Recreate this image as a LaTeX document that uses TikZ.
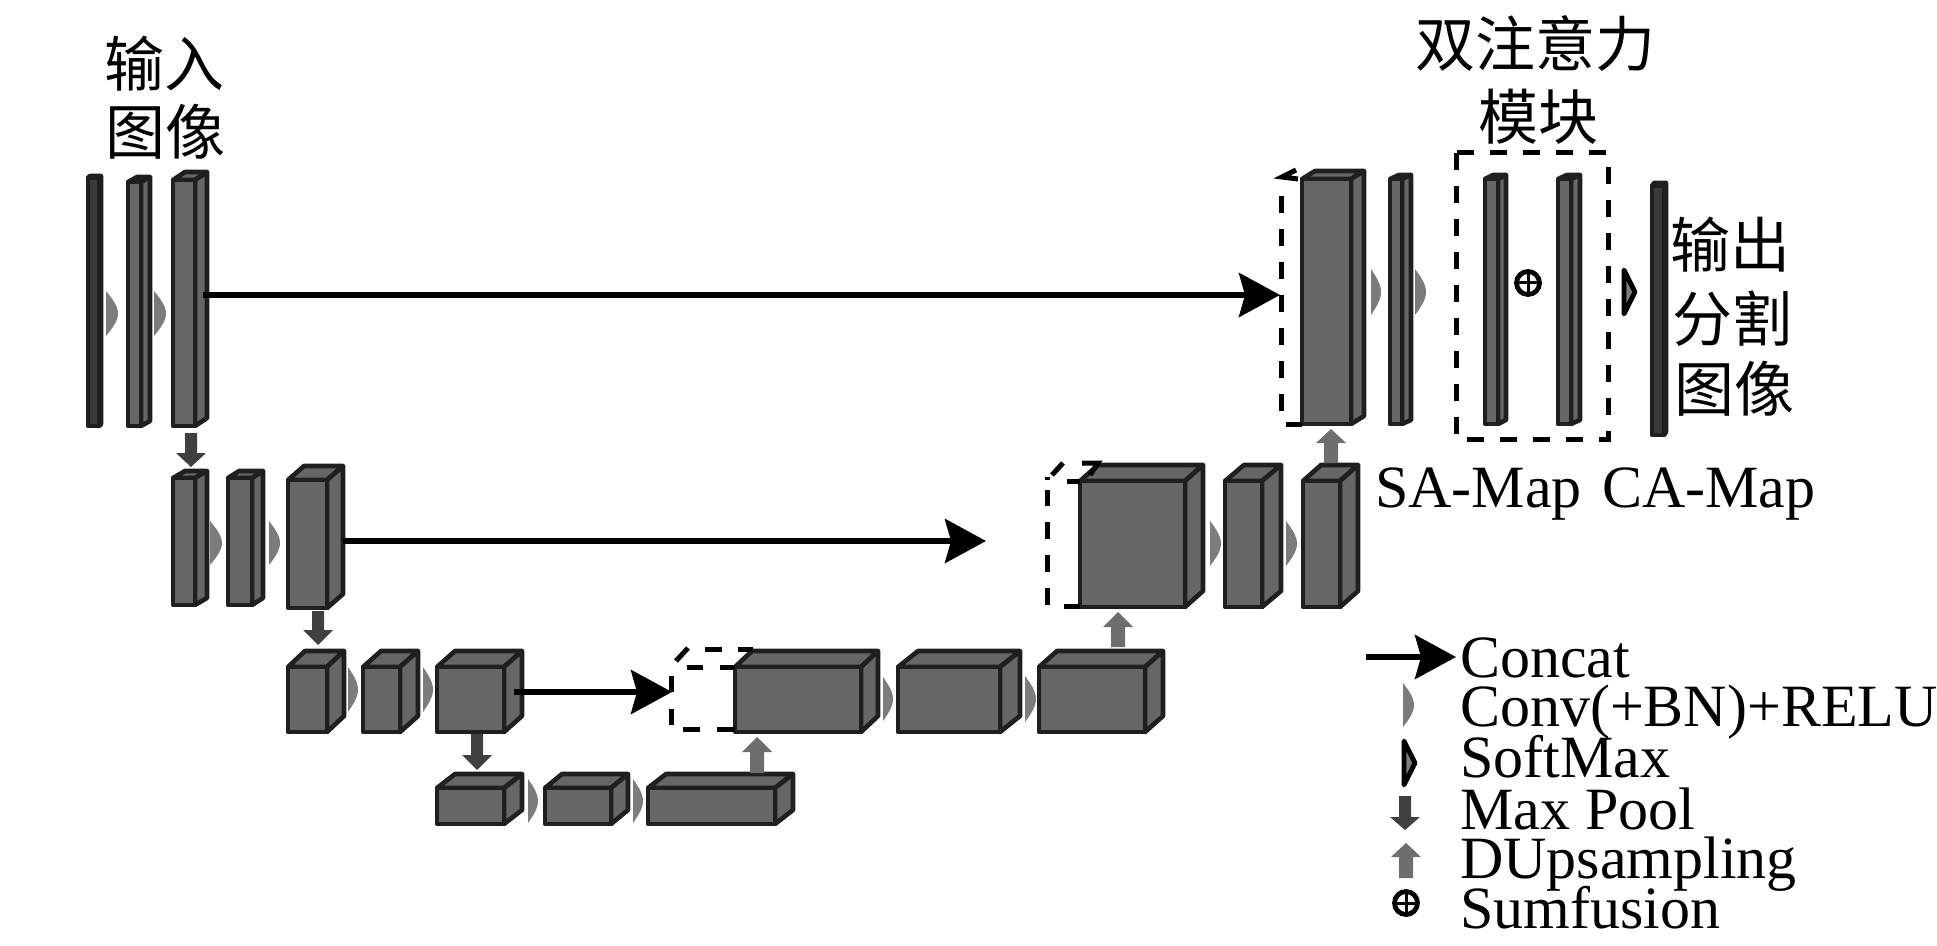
\documentclass[tikz,border=0pt]{standalone}
\usepackage{fontspec}
\setmainfont{Liberation Serif}
\newfontfamily\cjk{Noto Sans CJK SC}
\usetikzlibrary{arrows.meta}
\definecolor{cubefill}{HTML}{666666}
\definecolor{cubeline}{HTML}{1F1F1F}
\definecolor{cubedark}{HTML}{3A3A3A}
\definecolor{convcol}{HTML}{7C7C7C}
\definecolor{poolcol}{HTML}{404040}
\definecolor{upcol}{HTML}{6E6E6E}
\tikzset{
  x=0.5pt,y=-0.5pt,
  cubeface/.style={draw=cubeline,fill=cubefill,line width=2.3pt,inner sep=0pt,outer sep=0pt,anchor=north west,line join=round},
  cubeside/.style={draw=cubeline,fill=cubefill,line width=2.3pt,line join=round},
  dashbox/.style={draw=black,line width=2.5pt,dash pattern=on 8.5pt off 8pt},
  dashbit/.style={draw=black,line width=2.5pt},
  concat/.style={draw=black,line width=2.7pt,-{Stealth[length=20.5pt,width=22pt,inset=3pt]}},
  txt/.style={inner sep=0pt,outer sep=0pt,anchor=base west,font=\fontsize{30}{31}\selectfont},
  cjktxt/.style={inner sep=0pt,outer sep=0pt,anchor=center,font=\cjk\fontsize{30}{31}\selectfont},
}
\newcommand{\cuboid}[8][cubefill]{%
  % #2 name #3 x0 #4 yback #5 yfront #6 x1 #7 xback #8 y1
  \pgfmathsetmacro{\dxx}{#7-#6}%
  \pgfmathsetmacro{\dyy}{#5-#4}%
  \pgfmathsetmacro{\topb}{#3+\dxx}%
  \pgfmathsetmacro{\botb}{#8-\dyy}%
  \path[cubeside,fill=#1] (#3,#5) -- (\topb,#4) -- (#7,#4) -- (#6,#5) -- cycle;
  \path[cubeside,fill=#1] (#6,#5) -- (#7,#4) -- (#7,\botb) -- (#6,#8) -- cycle;
  \node[cubeface,fill=#1,minimum width=(#6-#3)*0.5pt,minimum height=(#8-#5)*0.5pt] (#2) at (#3,#5) {};
}
% x0 x1 y0 y1
\newcommand{\convmark}[4]{%
  \pgfmathsetmacro{\ymid}{(#3+#4)/2}%
  \pgfmathsetmacro{\xa}{#1+0.45*(#2-#1)}%
  \pgfmathsetmacro{\ya}{#3+0.15*(#4-#3)}%
  \pgfmathsetmacro{\yb}{#3+0.32*(#4-#3)}%
  \pgfmathsetmacro{\yc}{#4-0.32*(#4-#3)}%
  \pgfmathsetmacro{\yd}{#4-0.15*(#4-#3)}%
  \fill[convcol] (#1,#3) .. controls (\xa,\ya) and (#2,\yb) .. (#2,\ymid) .. controls (#2,\yc) and (\xa,\yd) .. (#1,#4) -- cycle;
}
\newcommand{\softmark}[4]{%
  \path[fill=convcol,draw=black,line width=2.4pt,line join=round] (#1,#3) -- (#2,{(#3+#4)/2}) -- (#1,#4) -- cycle;
}
% cx, ytop, yheadbase, ytip
\newcommand{\poolarrow}[4]{%
  \fill[poolcol] (#1-6,#2) -- (#1+6,#2) -- (#1+6,#3) -- (#1+15,#3) -- (#1,#4) -- (#1-15,#3) -- (#1-6,#3) -- cycle;
}
% cx, ybottom, yheadbase, ytip
\newcommand{\uparrowmark}[4]{%
  \fill[upcol] (#1-7,#2) -- (#1+7,#2) -- (#1+7,#3) -- (#1+15,#3) -- (#1,#4) -- (#1-15,#3) -- (#1-7,#3) -- cycle;
}
\newcommand{\sumfus}[2]{%
  \draw[black,line width=2.4pt] (#1,#2) circle (11.5);
  \draw[black,line width=1.5pt] (#1-11,#2) -- (#1+11,#2) (#1,#2-11) -- (#1,#2+11);
}
\begin{document}
\begin{tikzpicture}
\useasboundingbox (0,0) rectangle (1937,946);
% titles
\node[cjktxt] (tin1) at (164,64) {输入};
\node[cjktxt] (tin2) at (165,132) {图像};
\node[cjktxt] (tda1) at (1535,44) {双注意力};
\node[cjktxt] (tda2) at (1538,117) {模块};
\node[cjktxt] (tou1) at (1730,245) {输出};
\node[cjktxt] (tou2) at (1732,319) {分割};
\node[cjktxt] (tou3) at (1734,389) {图像};
\node[txt] (tsa) at (1375,507) {SA-Map};
\node[txt] (tca) at (1602,507) {CA-Map};
% encoder row 1
\cuboid[cubedark]{a1}{88}{176}{178}{99}{101}{426}
\cuboid{a2}{128}{177}{182}{141}{150}{426}
\cuboid{a3}{173}{172}{180}{195}{207}{426}
\convmark{106}{118}{291}{336}
\convmark{154}{166}{291}{336}
% encoder row 2
\cuboid{b1}{173}{471}{478}{195}{207}{605}
\cuboid{b2}{228}{471}{478}{252}{263}{605}
\cuboid{b3}{288}{466}{480}{327}{343}{608}
\convmark{210}{222}{521}{565}
\convmark{269}{280}{521}{565}
% encoder row 3
\cuboid{c1}{288}{651}{667}{327}{344}{732}
\cuboid{c2}{363}{651}{667}{400}{418}{732}
\cuboid{c3}{437}{651}{667}{504}{522}{732}
\convmark{348}{358}{667}{712}
\convmark{423}{433}{667}{712}
% bottom row
\cuboid{d1}{437}{774}{788}{504}{522}{824}
\cuboid{d2}{545}{774}{788}{611}{628}{824}
\cuboid{d3}{648}{774}{788}{775}{793}{824}
\convmark{528}{538}{779}{823}
\convmark{633}{643}{779}{823}
% decoder row 3
\cuboid{e1}{735}{651}{667}{861}{878}{732}
\cuboid{e2}{898}{651}{667}{1000}{1020}{732}
\cuboid{e3}{1039}{651}{667}{1145}{1163}{732}
\convmark{883}{893}{677}{721}
\convmark{1025}{1036}{676}{722}
% decoder row 2
\cuboid{f1}{1080}{465}{481}{1185}{1203}{607}
\cuboid{f2}{1225}{465}{481}{1262}{1281}{607}
\cuboid{f3}{1303}{465}{481}{1340}{1358}{607}
\convmark{1210}{1221}{521}{566}
\convmark{1286}{1297}{521}{566}
% decoder row 1
\cuboid{g1}{1302}{171}{179}{1351}{1364}{424}
\cuboid{g2}{1390}{175}{179}{1402}{1411}{424}
\cuboid{g3}{1485}{175}{179}{1498}{1506}{424}
\cuboid{g4}{1558}{175}{179}{1571}{1580}{424}
\cuboid[cubedark]{g5}{1652}{183}{186}{1664}{1666}{435}
\convmark{1371}{1381}{269}{315}
\convmark{1415}{1426}{269}{315}
\softmark{1624}{1635}{270}{314}
\sumfus{1528}{283}
% block arrows
\poolarrow{191}{433}{453}{467}
\poolarrow{318}{611}{630}{645}
\poolarrow{477}{734}{755}{770}
\uparrowmark{757}{773}{752}{737}
\uparrowmark{1118}{647}{627}{612}
\uparrowmark{1331}{463}{443}{429}
% dashed concat frames
\draw[dashbit] (1286,424) -- (1302,424);
\draw[dashbox] (1281,411) -- (1281,195);
\draw[dashbit] (1298,179) -- (1282,177) -- (1296,170);
\draw[dashbit] (1064,606) -- (1080,606);
\draw[dashbit] (1067,481) -- (1080,481);
\draw[dashbox] (1047,605) -- (1047,490);
\draw[dashbit] (1047,480) -- (1047,477);
\draw[dashbit] (1052,475) -- (1063,463);
\draw[dashbit] (1082,463) -- (1098,463) -- (1090,475);
\draw[dashbit] (683,729) -- (700,729);
\draw[dashbit] (717,729) -- (735,729);
\draw[dashbit] (671,676) -- (671,692);
\draw[dashbit] (671,709) -- (671,725);
\draw[dashbit] (687,667) -- (703,667);
\draw[dashbit] (720,667) -- (735,667);
\draw[dashbit] (676,661) -- (688,648);
\draw[dashbit] (705,649) -- (722,649);
\draw[dashbit] (738,649) -- (753,649);
% dual-attention module
\draw[dashbox] (1456,153) rectangle (1608,439);
% concat arrows
\coordinate (s1) at (203,295);
\coordinate (t1) at (1280,295);
\coordinate (s2) at (343,541);
\coordinate (t2) at (986,541);
\coordinate (s3) at (514,692);
\coordinate (t3) at (672,692);
\draw[concat] (s1) -- (t1);
\draw[concat] (s2) -- (t2);
\draw[concat] (s3) -- (t3);
% legend
\coordinate (l1) at (1366,657);
\coordinate (l2) at (1456,657);
\draw[concat] (l1) -- (l2);
\convmark{1403}{1414}{683}{727}
\softmark{1404}{1415}{741}{785}
\poolarrow{1405}{796}{817}{830}
\uparrowmark{1406}{878}{857}{843}
\sumfus{1406}{903}
\node[txt] (k1) at (1460,677) {Concat};
\node[txt] (k2) at (1460,726) {Conv(+BN)+RELU};
\node[txt] (k3) at (1460,777) {SoftMax};
\node[txt] (k4) at (1460,829) {Max Pool};
\node[txt] (k5) at (1460,878) {DUpsampling};
\node[txt] (k6) at (1460,928) {Sumfusion};
\end{tikzpicture}
\end{document}
